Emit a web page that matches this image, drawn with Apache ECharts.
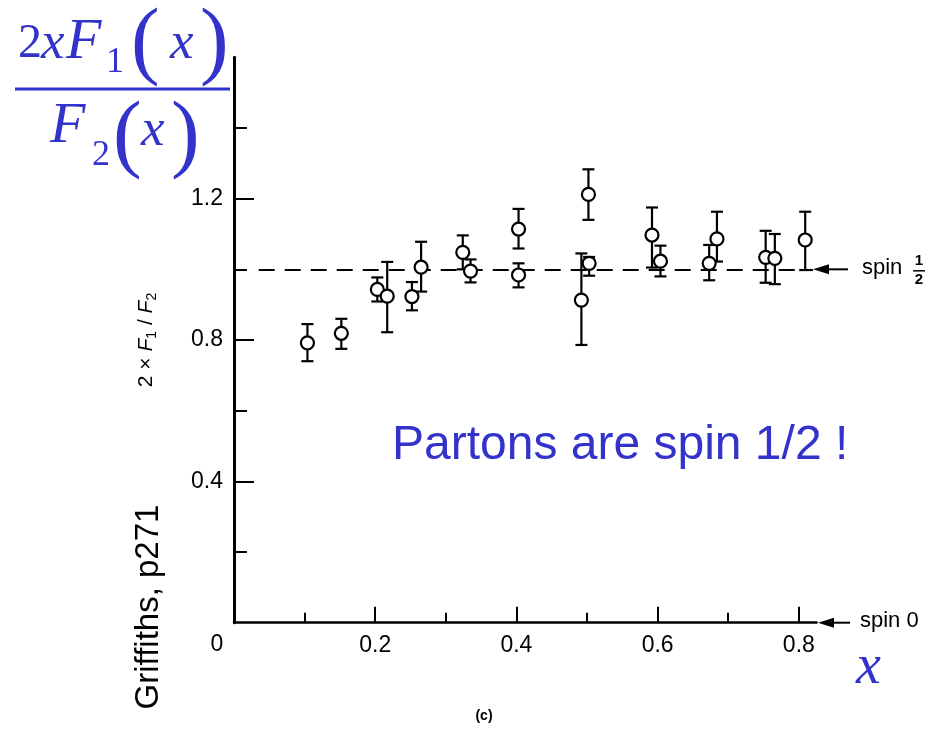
<!DOCTYPE html>
<html>
<head>
<meta charset="utf-8">
<script src="https://cdn.jsdelivr.net/npm/echarts@6/dist/echarts.min.js"></script>
<style>html,body{margin:0;padding:0;background:#fff;}#c{width:940px;height:735px;}</style>
</head>
<body>
<div id="c"></div>
<script>
// ---- data ----
const xVals  = [0.104, 0.152, 0.203, 0.217, 0.252, 0.265, 0.324, 0.335, 0.403, 0.403, 0.492, 0.502, 0.503, 0.592, 0.604, 0.673, 0.684, 0.753, 0.766, 0.809];
const yVals  = [0.792, 0.819, 0.943, 0.924, 0.923, 1.006, 1.048, 0.995, 1.114, 0.984, 0.913, 1.212, 1.017, 1.097, 1.023, 1.017, 1.086, 1.034, 1.031, 1.083];
const yLow   = [0.740, 0.775, 0.909, 0.822, 0.884, 0.937, 1.000, 0.963, 1.059, 0.949, 0.786, 1.140, 0.982, 1.005, 0.980, 0.969, 1.022, 0.962, 0.958, 0.998];
const yHigh  = [0.845, 0.860, 0.977, 1.021, 0.964, 1.078, 1.096, 1.028, 1.171, 1.017, 1.045, 1.283, 1.035, 1.175, 1.067, 1.069, 1.163, 1.109, 1.100, 1.163];
const xMajorTicks = [0.2, 0.4, 0.6, 0.8];
const xMinorTicks = [0.1, 0.3, 0.5, 0.7];
const yMajorTicks = [0.4, 0.8, 1.2];
const yMinorTicks = [0.2, 0.6, 1.0, 1.4];
const spinHalfValue = 1.0;
const spinZeroValue = 0.0;
const dashStart = 0.035, dashEnd = 0.82;

const BLUE = '#3333cc';
const chart = echarts.init(document.getElementById('c'), null, {renderer: 'canvas'});

const labelStyle = {fontFamily: 'Liberation Sans, Arial, sans-serif', fontSize: 23, color: '#000'};

const option = {
  animation: false,
  backgroundColor: '#fff',
  grid: {left: 234, top: 57.3, width: 582.5, height: 565.4, containLabel: false},
  xAxis: [
    {type: 'value', min: 0, max: 0.825, splitLine: {show: false},
     axisLine: {show: true, onZero: false, lineStyle: {color: '#000', width: 2.5}},
     axisTick: {show: true, inside: true, length: 16, customValues: xMajorTicks, lineStyle: {color: '#000', width: 2}},
     axisLabel: Object.assign({show: true, margin: 11, customValues: xMajorTicks, formatter: v => v.toFixed(1)}, labelStyle)},
    {type: 'value', min: 0, max: 0.825, position: 'bottom', splitLine: {show: false},
     axisLine: {show: false, onZero: false},
     axisTick: {show: true, inside: true, length: 10, customValues: xMinorTicks, lineStyle: {color: '#000', width: 2}},
     axisLabel: {show: false}}
  ],
  yAxis: [
    {type: 'value', min: 0, max: 1.6, splitLine: {show: false},
     axisLine: {show: true, onZero: false, lineStyle: {color: '#000', width: 3}},
     axisTick: {show: true, inside: true, length: 20, customValues: yMajorTicks, lineStyle: {color: '#000', width: 2}},
     axisLabel: Object.assign({show: true, margin: 11, customValues: yMajorTicks, formatter: v => v.toFixed(1)}, labelStyle)},
    {type: 'value', min: 0, max: 1.6, position: 'left', offset: 0, splitLine: {show: false},
     axisLine: {show: false, onZero: false},
     axisTick: {show: true, inside: true, length: 13, customValues: yMinorTicks, lineStyle: {color: '#000', width: 2}},
     axisLabel: {show: false}}
  ],
  series: [
    {
      type: 'line', xAxisIndex: 0, yAxisIndex: 0, z: 1, data: [], symbol: 'none',
      markLine: {
        silent: true, symbol: 'none', label: {show: false},
        lineStyle: {color: '#000', width: 2, type: [16, 10]},
        data: [[{coord: [dashStart, spinHalfValue]}, {coord: [dashEnd, spinHalfValue]}]]
      }
    },
    {
      type: 'custom', xAxisIndex: 0, yAxisIndex: 0, z: 2,
      data: xVals.map((x, i) => [x, yLow[i], yHigh[i]]),
      encode: {x: 0, y: [1, 2]},
      renderItem: function (params, api) {
        const x = api.value(0), lo = api.value(1), hi = api.value(2);
        const a = api.coord([x, lo]), b = api.coord([x, hi]);
        const w = 6;
        const st = {stroke: '#000', lineWidth: 2.2};
        return {type: 'group', children: [
          {type: 'line', shape: {x1: a[0], y1: a[1], x2: b[0], y2: b[1]}, style: st},
          {type: 'line', shape: {x1: a[0] - w, y1: a[1], x2: a[0] + w, y2: a[1]}, style: st},
          {type: 'line', shape: {x1: b[0] - w, y1: b[1], x2: b[0] + w, y2: b[1]}, style: st}
        ]};
      }
    },
    {
      type: 'scatter', xAxisIndex: 0, yAxisIndex: 0, z: 5,
      symbol: 'circle', symbolSize: 13,
      itemStyle: {color: '#fff', borderColor: '#000', borderWidth: 2.2, opacity: 1},
      data: xVals.map((x, i) => [x, yVals[i]])
    }
  ]
};
chart.setOption(option);

// ---- annotations ----
const pHalf = chart.convertToPixel({xAxisIndex: 0, yAxisIndex: 0}, [0, spinHalfValue]);
const pZero = chart.convertToPixel({xAxisIndex: 0, yAxisIndex: 0}, [0, spinZeroValue]);
const yH = pHalf[1], yZ = pZero[1];

function arrow(x1, x2, y) {
  return [
    {type: 'line', shape: {x1: x1 + 8, y1: y, x2: x2, y2: y}, style: {stroke: '#000', lineWidth: 2}},
    {type: 'polygon', shape: {points: [[x1, y], [x1 + 16, y - 5], [x1 + 16, y + 5]]}, style: {fill: '#000'}}
  ];
}
const serif = 'Liberation Serif, Times New Roman, serif';
function t(text, x, y, fs, opts) {
  return {type: 'text', x: x, y: y, silent: true, style: Object.assign({
    text: text, fontSize: fs, fontFamily: serif, fill: BLUE, align: 'left', verticalAlign: 'middle'
  }, opts || {})};
}
const sans = 'Liberation Sans, Arial, sans-serif';

const g = [];
g.push(...arrow(813, 848, yH));
g.push(...arrow(818, 850, yZ));
g.push({type: 'text', x: 862, y: yH - 1, style: {text: 'spin', fontSize: 22, fontFamily: sans, fill: '#000', align: 'left', verticalAlign: 'middle'}});
g.push({type: 'text', x: 919, y: yH - 8, style: {text: '1', fontSize: 15, fontFamily: sans, fontWeight: 'bold', fill: '#000', align: 'center', verticalAlign: 'middle'}});
g.push({type: 'line', shape: {x1: 913, y1: yH + 1.5, x2: 925, y2: yH + 1.5}, style: {stroke: '#000', lineWidth: 1.5}});
g.push({type: 'text', x: 919, y: yH + 11, style: {text: '2', fontSize: 15, fontFamily: sans, fontWeight: 'bold', fill: '#000', align: 'center', verticalAlign: 'middle'}});
g.push({type: 'text', x: 860, y: yZ - 2, style: {text: 'spin 0', fontSize: 22, fontFamily: sans, fill: '#000', align: 'left', verticalAlign: 'middle'}});
g.push({type: 'text', x: 217, y: 645, style: {text: '0', fontSize: 23, fontFamily: sans, fill: '#000', align: 'center', verticalAlign: 'middle'}});
g.push({type: 'text', x: 484, y: 716, style: {text: '(c)', fontSize: 14, fontFamily: sans, fontWeight: 'bold', fill: '#000', align: 'center', verticalAlign: 'middle'}});

// rotated y-axis label 2 x F1/F2
g.push({type: 'text', x: 146, y: 340, rotation: Math.PI / 2, silent: true, style: {
  text: '{n|2 × }{i|F}{s|1}{n| / }{i|F}{s|2}',
  align: 'center', verticalAlign: 'middle', fill: '#000',
  rich: {
    n: {fontSize: 21, fontFamily: sans, lineHeight: 27, fill: '#000'},
    i: {fontSize: 21, fontFamily: sans, fontStyle: 'italic', lineHeight: 27, fill: '#000'},
    s: {fontSize: 14, fontFamily: sans, lineHeight: 14, verticalAlign: 'bottom', fill: '#000'}
  }
}});
g.push({type: 'text', x: 149, y: 607, rotation: Math.PI / 2, silent: true, style: {
  text: 'Griffiths, p271', fontSize: 33, fontFamily: sans, fill: '#000', align: 'center', verticalAlign: 'middle'
}});
g.push({type: 'text', x: 392, y: 446, silent: true, style: {
  text: 'Partons are spin 1/2 !', fontSize: 48, fontFamily: sans, fill: BLUE, align: 'left', verticalAlign: 'middle'
}});

// big fraction 2xF1(x) / F2(x)
g.push(t('2', 18, 44, 48));
g.push(t('x', 41, 44, 53, {fontStyle: 'italic'}));
g.push(t('F', 66, 43, 58, {fontStyle: 'italic'}));
g.push(t('1', 106, 63, 36));
g.push(t('(', 131, 45, 86));
g.push(t('x', 170, 44, 53, {fontStyle: 'italic'}));
g.push(t(')', 200, 45, 86));
g.push({type: 'line', shape: {x1: 15, y1: 89, x2: 230, y2: 89}, style: {stroke: BLUE, lineWidth: 3}});
g.push(t('F', 50, 127, 58, {fontStyle: 'italic'}));
g.push(t('2', 92, 156, 36));
g.push(t('(', 113, 138, 86));
g.push(t('x', 141, 131, 53, {fontStyle: 'italic'}));
g.push(t(')', 171, 138, 86));
// axis name x
g.push(t('x', 856, 668, 56, {fontStyle: 'italic'}));

chart.setOption({graphic: {elements: g}});
</script>
</body>
</html>
